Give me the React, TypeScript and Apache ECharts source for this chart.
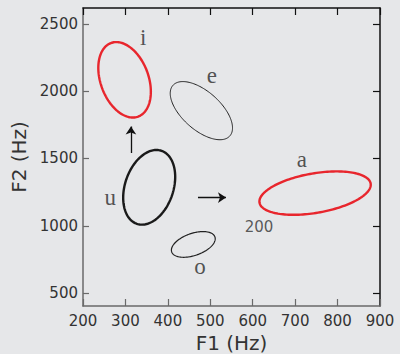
import React, { useEffect, useRef } from 'react';
import * as echarts from 'echarts';

// Axis ticks
const xTicks = [200, 300, 400, 500, 600, 700, 800, 900];
const yTicks = [500, 1000, 1500, 2000, 2500];

// Vowel ellipses: centre, end of first semi-axis, end of second semi-axis (Hz)
const vowels = ['i', 'e', 'a', 'o', 'u'];
const centerF1 = [298, 479, 747, 460, 356];
const centerF2 = [2084, 1855, 1243, 862, 1286];
const axisAF1 = [330, 546, 878, 511, 385];
const axisAF2 = [1811, 1667, 1313, 917, 1557];
const axisBF1 = [351, 509, 754, 468, 410];
const axisBF2 = [2146, 1961, 1098, 784, 1228];

// Vowel label anchors (Hz)
const labelF1 = [342, 504, 716, 476, 264];
const labelF2 = [2396, 2114, 1490, 695, 1208];

// Arrows (Hz)
const arrowFromF1 = [313, 471];
const arrowFromF2 = [1540, 1210];
const arrowToF1 = [313, 537];
const arrowToF2 = [1737, 1210];

// Note
const noteText = ['200'];
const noteF1 = [615];
const noteF2 = [992];

const RED = '#e8262d';
const vowelColor: Record<string, string> = { i: RED, e: '#222', a: RED, o: '#222', u: '#1a1a1a' };
const vowelWidth: Record<string, number> = { i: 2.4, e: 1, a: 2.4, o: 1.2, u: 2.4 };

export default function App() {
  const ref = useRef<HTMLDivElement>(null);
  useEffect(() => {
    if (!ref.current) return;
    const chart = echarts.init(ref.current, undefined, { renderer: 'svg' });
    const sans = 'DejaVu Sans';
    const ellipseData = vowels.map((v, i) => [centerF1[i], centerF2[i], axisAF1[i], axisAF2[i], axisBF1[i], axisBF2[i]]);
    const frameColor = '#6a6a6a';
    const plain = (v: number) => String(v);
    const option: any = {
      animation: false,
      backgroundColor: '#e6e7e9',
      grid: { left: 83, right: 20, top: 8, bottom: 48, containLabel: false, outerBoundsMode: 'none' },
      xAxis: [
        {
          type: 'value', position: 'bottom', min: xTicks[0], max: xTicks[xTicks.length - 1], interval: 100,
          axisLine: { show: true, onZero: false, lineStyle: { color: frameColor, width: 1.5 } },
          axisTick: { show: true, inside: true, length: 7, lineStyle: { color: frameColor, width: 1.2 } },
          axisLabel: { color: '#333', fontFamily: sans, fontSize: 15, margin: 7, formatter: plain },
          splitLine: { show: false },
          name: 'F1 (Hz)', nameLocation: 'middle', nameGap: 27,
          nameTextStyle: { color: '#333', fontFamily: sans, fontSize: 20 },
        },
        {
          type: 'value', position: 'top', min: xTicks[0], max: xTicks[xTicks.length - 1], interval: 100,
          axisLine: { show: true, onZero: false, lineStyle: { color: '#111', width: 1.5 } },
          axisTick: { show: true, inside: true, length: 7, lineStyle: { color: '#111', width: 1.2 } },
          axisLabel: { show: false },
          splitLine: { show: false },
        },
      ],
      yAxis: [
        {
          type: 'value', position: 'left', min: 405, max: 2617,
          axisLine: { show: true, onZero: false, lineStyle: { color: frameColor, width: 1.5 } },
          axisTick: { show: true, inside: true, length: 6, customValues: yTicks, lineStyle: { color: frameColor, width: 1.2 } },
          axisLabel: { color: '#333', fontFamily: sans, fontSize: 15, margin: 5, customValues: yTicks, formatter: plain },
          splitLine: { show: false },
          name: 'F2 (Hz)', nameLocation: 'middle', nameGap: 43,
          nameTextStyle: { color: '#333', fontFamily: sans, fontSize: 20 },
        },
        {
          type: 'value', position: 'right', min: 405, max: 2617,
          axisLine: { show: true, onZero: false, lineStyle: { color: '#111', width: 1.5 } },
          axisTick: { show: true, inside: true, length: 7, customValues: yTicks, lineStyle: { color: '#111', width: 1.2 } },
          axisLabel: { show: false, customValues: yTicks },
          splitLine: { show: false },
        },
      ],
      series: [
        {
          type: 'custom',
          xAxisIndex: 0, yAxisIndex: 0,
          data: ellipseData,
          encode: { x: [0, 2, 4], y: [1, 3, 5] },
          renderItem: (params: any, api: any) => {
            const c = api.coord([api.value(0), api.value(1)]);
            const a = api.coord([api.value(2), api.value(3)]);
            const b = api.coord([api.value(4), api.value(5)]);
            const pts: number[][] = [];
            const N = 160;
            for (let k = 0; k < N; k++) {
              const t = (2 * Math.PI * k) / N;
              const ct = Math.cos(t), st = Math.sin(t);
              pts.push([
                c[0] + ct * (a[0] - c[0]) + st * (b[0] - c[0]),
                c[1] + ct * (a[1] - c[1]) + st * (b[1] - c[1]),
              ]);
            }
            const v = vowels[params.dataIndex];
            return {
              type: 'polygon',
              shape: { points: pts },
              style: { fill: 'none', stroke: vowelColor[v], lineWidth: vowelWidth[v] },
            };
          },
        },
        {
          type: 'lines',
          coordinateSystem: 'cartesian2d',
          xAxisIndex: 0, yAxisIndex: 0,
          symbol: ['none', 'arrow'],
          symbolSize: 8,
          lineStyle: { color: '#111', width: 1.3, opacity: 1 },
          data: arrowFromF1.map((f, i) => ({ coords: [[f, arrowFromF2[i]], [arrowToF1[i], arrowToF2[i]]] })),
        },
        {
          type: 'scatter',
          xAxisIndex: 0, yAxisIndex: 0,
          symbolSize: 1,
          itemStyle: { color: 'transparent' },
          data: vowels.map((v, i) => [labelF1[i], labelF2[i], v]),
          label: {
            show: true, position: 'inside',
            formatter: (p: any) => p.value[2],
            fontFamily: 'Liberation Serif', fontSize: 23, color: '#2a2a2a',
          },
        },
        {
          type: 'scatter',
          xAxisIndex: 0, yAxisIndex: 0,
          symbolSize: 1,
          itemStyle: { color: 'transparent' },
          data: noteText.map((t, i) => [noteF1[i], noteF2[i], t]),
          label: {
            show: true, position: 'inside',
            formatter: (p: any) => p.value[2],
            fontFamily: sans, fontSize: 15, color: '#333',
          },
        },
      ],
    };
    chart.setOption(option);
    return () => chart.dispose();
  }, []);
  return <div ref={ref} style={{ position: 'fixed', left: 0, top: 0, width: 400, height: 354 }} />;
}
